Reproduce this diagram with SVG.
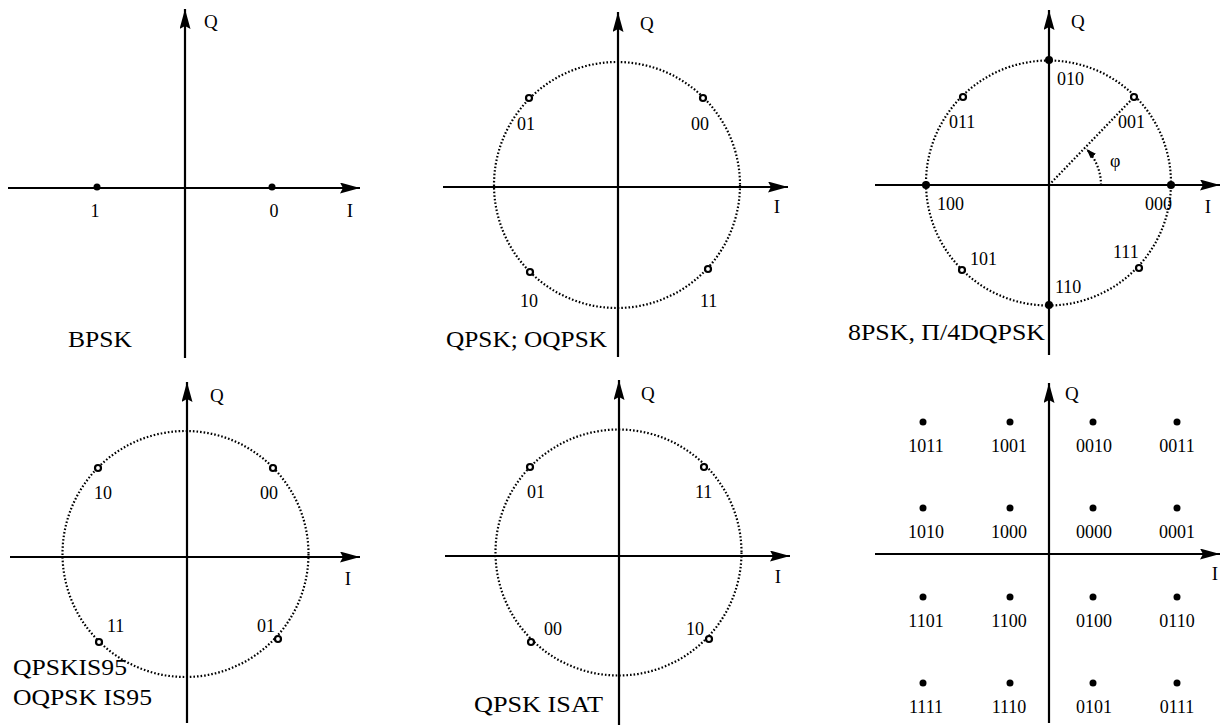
<svg xmlns="http://www.w3.org/2000/svg" width="1223" height="725" viewBox="0 0 1223 725">
<defs>
<marker id="ah" markerUnits="userSpaceOnUse" markerWidth="22" markerHeight="12" refX="20" refY="5.5" orient="auto">
<path d="M0,0 L20,5.5 L0,11 L3,5.5 z" fill="#000"/>
</marker>
<marker id="ahs" markerUnits="userSpaceOnUse" markerWidth="12" markerHeight="8" refX="10" refY="3.5" orient="auto">
<path d="M0,0 L10,3.5 L0,7 z" fill="#000"/>
</marker>
</defs>
<style>
.ax{stroke:#000;stroke-width:2.2;fill:none;marker-end:url(#ah)}
.ring{stroke:#000;stroke-width:2.2;stroke-dasharray:1.6 2;fill:none}
.dot{fill:#000}
.op{fill:#fff;stroke:#000;stroke-width:2.2}
text{font-family:'Liberation Serif','DejaVu Serif','Times New Roman',serif;fill:#000}
.lb{font-size:18px}
.ax-t{font-size:19px}
.cap{font-size:23px}
.mid{text-anchor:middle}
</style>
<rect width="1223" height="725" fill="#fff"/>

<g id="bpsk">
<g id="bpsk-axes">
<line class="ax" x1="185" y1="358" x2="185" y2="9"/>
<line class="ax" x1="8" y1="188" x2="360" y2="188"/>
</g>
<circle class="dot" cx="97" cy="187" r="3.5"/>
<circle class="dot" cx="272" cy="187" r="3.5"/>
<text class="lb mid" x="95" y="217">1</text>
<text class="lb mid" x="274" y="217">0</text>
<text class="ax-t mid" x="350" y="217">I</text>
<text class="ax-t" x="204" y="28">Q</text>
<text class="cap" x="68" y="347" textLength="64" lengthAdjust="spacingAndGlyphs">BPSK</text>
</g>

<g id="qpsk">
<circle class="ring" cx="617" cy="185" r="123"/>
<g id="qpsk-axes">
<line class="ax" x1="618" y1="357" x2="618" y2="12"/>
<line class="ax" x1="443" y1="187" x2="788" y2="187"/>
</g>
<circle class="op" cx="529" cy="98" r="3"/>
<circle class="op" cx="703" cy="98" r="3"/>
<circle class="op" cx="530" cy="272" r="3"/>
<circle class="op" cx="708" cy="269" r="3"/>
<text class="lb" x="517" y="130">01</text>
<text class="lb" x="691" y="130">00</text>
<text class="lb" x="520" y="307">10</text>
<text class="lb" x="700" y="307">11</text>
<text class="ax-t" x="640" y="30">Q</text>
<text class="ax-t mid" x="777" y="213">I</text>
<text class="cap" x="446" y="347" textLength="161" lengthAdjust="spacingAndGlyphs">QPSK; OQPSK</text>
</g>

<g id="psk8">
<circle class="ring" cx="1048.5" cy="183" r="122.5"/>
<g id="psk8-axes">
<line class="ax" x1="1049" y1="355" x2="1049" y2="10"/>
<line class="ax" x1="875" y1="185" x2="1220" y2="185"/>
</g>
<line class="ring" x1="1049" y1="185" x2="1134" y2="97"/>
<path class="ring" d="M1101,185 A52,52 0 0 0 1086.4,148.9" style="marker-end:url(#ahs)"/>
<circle class="dot" cx="1049" cy="60" r="4"/>
<circle class="dot" cx="926" cy="185" r="4"/>
<circle class="dot" cx="1171" cy="185" r="4"/>
<circle class="dot" cx="1049" cy="305" r="4"/>
<circle class="op" cx="963" cy="97" r="3"/>
<circle class="op" cx="1134" cy="97" r="3"/>
<circle class="op" cx="962" cy="270" r="3"/>
<circle class="op" cx="1139" cy="268" r="3"/>
<text class="lb" x="1057" y="85">010</text>
<text class="lb" x="949" y="128">011</text>
<text class="lb" x="1118" y="128">001</text>
<text class="lb" x="937" y="210">100</text>
<text class="lb" x="1145" y="210">000</text>
<text class="lb" x="970" y="265">101</text>
<text class="lb" x="1113" y="258">111</text>
<text class="lb" x="1055" y="293">110</text>
<text class="lb" x="1110" y="167">φ</text>
<text class="ax-t" x="1071" y="28">Q</text>
<text class="ax-t mid" x="1208" y="213">I</text>
<text class="cap" x="848" y="340" textLength="197" lengthAdjust="spacingAndGlyphs">8PSK, Π/4DQPSK</text>
</g>

<g id="qpsk-is95">
<circle class="ring" cx="185.5" cy="554" r="123"/>
<g id="is95-axes">
<line class="ax" x1="187" y1="723" x2="187" y2="382"/>
<line class="ax" x1="10" y1="557" x2="360" y2="557"/>
</g>
<circle class="op" cx="98" cy="468" r="3"/>
<circle class="op" cx="273" cy="468" r="3"/>
<circle class="op" cx="99" cy="642" r="3"/>
<circle class="op" cx="278" cy="639" r="3"/>
<text class="lb" x="94" y="499">10</text>
<text class="lb" x="260" y="499">00</text>
<text class="lb" x="107" y="632">11</text>
<text class="lb" x="257" y="632">01</text>
<text class="ax-t" x="210" y="402">Q</text>
<text class="ax-t mid" x="348" y="585">I</text>
<text class="cap" x="13" y="675" textLength="114" lengthAdjust="spacingAndGlyphs">QPSKIS95</text>
<text class="cap" x="13" y="705" textLength="139" lengthAdjust="spacingAndGlyphs">OQPSK IS95</text>
</g>

<g id="qpsk-isat">
<circle class="ring" cx="618.5" cy="552.5" r="123"/>
<g id="isat-axes">
<line class="ax" x1="619" y1="725" x2="619" y2="380"/>
<line class="ax" x1="445" y1="556" x2="790" y2="556"/>
</g>
<circle class="op" cx="530" cy="467" r="3"/>
<circle class="op" cx="704" cy="467" r="3"/>
<circle class="op" cx="531" cy="642" r="3"/>
<circle class="op" cx="709" cy="639" r="3"/>
<text class="lb" x="527" y="498">01</text>
<text class="lb" x="695" y="498">11</text>
<text class="lb" x="544" y="635">00</text>
<text class="lb" x="686" y="635">10</text>
<text class="ax-t" x="641" y="400">Q</text>
<text class="ax-t mid" x="778" y="583">I</text>
<text class="cap" x="474" y="712" textLength="129" lengthAdjust="spacingAndGlyphs">QPSK ISAT</text>
</g>

<g id="qam16">
<g id="qam-axes">
<line class="ax" x1="1049" y1="723" x2="1049" y2="383"/>
<line class="ax" x1="875" y1="554" x2="1220" y2="554"/>
</g>
<g class="dot">
<circle cx="923" cy="422" r="3.5"/><circle cx="1010" cy="422" r="3.5"/><circle cx="1093" cy="422" r="3.5"/><circle cx="1177" cy="422" r="3.5"/>
<circle cx="923" cy="508" r="3.5"/><circle cx="1010" cy="508" r="3.5"/><circle cx="1093" cy="508" r="3.5"/><circle cx="1177" cy="508" r="3.5"/>
<circle cx="923" cy="597" r="3.5"/><circle cx="1010" cy="597" r="3.5"/><circle cx="1093" cy="597" r="3.5"/><circle cx="1177" cy="597" r="3.5"/>
<circle cx="923" cy="683" r="3.5"/><circle cx="1010" cy="683" r="3.5"/><circle cx="1093" cy="683" r="3.5"/><circle cx="1177" cy="683" r="3.5"/>
</g>
<text class="lb mid" x="926" y="452">1011</text>
<text class="lb mid" x="1009" y="452">1001</text>
<text class="lb mid" x="1094" y="452">0010</text>
<text class="lb mid" x="1177" y="452">0011</text>
<text class="lb mid" x="926" y="538">1010</text>
<text class="lb mid" x="1009" y="538">1000</text>
<text class="lb mid" x="1094" y="538">0000</text>
<text class="lb mid" x="1177" y="538">0001</text>
<text class="lb mid" x="926" y="627">1101</text>
<text class="lb mid" x="1009" y="627">1100</text>
<text class="lb mid" x="1094" y="627">0100</text>
<text class="lb mid" x="1177" y="627">0110</text>
<text class="lb mid" x="926" y="713">1111</text>
<text class="lb mid" x="1009" y="713">1110</text>
<text class="lb mid" x="1094" y="713">0101</text>
<text class="lb mid" x="1177" y="713">0111</text>
<text class="ax-t" x="1065" y="400">Q</text>
<text class="ax-t mid" x="1215" y="580">I</text>
</g>
</svg>
